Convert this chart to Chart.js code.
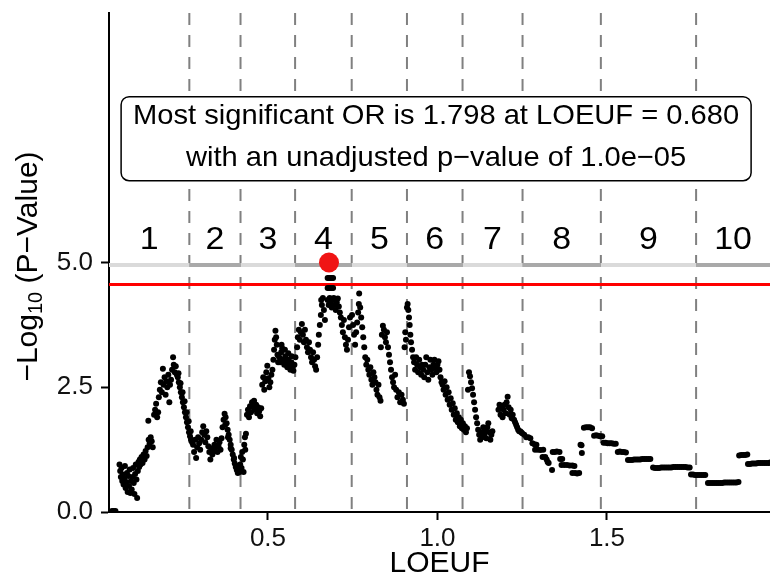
<!DOCTYPE html>
<html>
<head>
<meta charset="utf-8">
<script src="https://cdn.jsdelivr.net/npm/chart.js@4.4.1/dist/chart.umd.min.js"></script>
<style>
html,body{margin:0;padding:0;background:#fff;}
#wrap{width:770px;height:583px;position:relative;}
</style>
</head>
<body>
<div id="wrap"><canvas id="c" width="770" height="583"></canvas></div>
<script>
// ---------- data ----------
const loeufRange = [0.031, 1.981];
const yRange = [0, 10];
const xTickValues = [0.5, 1.0, 1.5];
const yTickValues = [0, 2.5, 5.0];
const decileBreaks = [0.031, 0.268, 0.419, 0.580, 0.747, 0.910, 1.074, 1.251, 1.482, 1.763, 1.981];
const decileNames = ['1','2','3','4','5','6','7','8','9','10'];
const decileLabelLevel = 5.45;
const bandLevel = 4.95;
const thresholdLevel = 4.56;
const topHit = [0.680, 5.0];
const noteCenter = [0.996, 7.48];
const noteLines = ['Most significant OR is 1.798 at LOEUF = 0.680', 'with an unadjusted p\u2212value of 1.0e\u221205'];
const xTitle = 'LOEUF';
const yTitleParts = ['\u2212Log', '10', ' (P\u2212Value)'];

// sliding-window points: [LOEUF, -log10 p]
const windowPoints = [
[0.040,0.02],[0.045,0.02],[0.050,0.02],
[0.062,0.95],[0.064,0.82],[0.066,0.70],[0.068,0.88],[0.070,0.62],[0.072,0.75],[0.074,0.55],[0.076,0.68],[0.078,0.92],[0.080,0.48],[0.082,0.60],[0.084,0.78],[0.086,0.40],[0.088,0.72],[0.090,0.52],[0.092,0.85],[0.094,0.38],[0.096,0.62],[0.098,0.45],[0.100,0.70],[0.102,0.88],[0.104,0.58],[0.106,0.36],[0.108,0.76],[0.110,0.95],[0.112,0.65],[0.114,0.28],[0.116,0.82],[0.118,1.00],[0.120,0.90],[0.122,1.05],
[0.124,0.95],[0.127,1.10],[0.130,0.98],[0.133,1.15],[0.136,1.05],[0.139,1.22],[0.142,1.12],[0.145,1.30],[0.148,1.45],[0.151,1.38],[0.154,1.50],[0.157,1.42],[0.147,1.83],[0.160,1.30],
[0.164,1.95],[0.167,2.05],[0.170,2.17],[0.173,1.90],[0.176,2.00],
[0.178,2.30],[0.181,2.45],[0.184,2.60],[0.187,2.40],[0.190,2.87],[0.192,2.55],[0.195,2.70],[0.198,2.35],[0.200,2.62],[0.203,2.50],[0.206,2.75],[0.209,2.20],[0.211,2.55],
[0.214,2.65],[0.217,2.85],[0.220,3.10],[0.222,2.95],[0.225,2.80],[0.228,2.92],[0.231,2.75],
[0.234,2.70],[0.237,2.60],[0.240,2.50],[0.243,2.40],[0.246,2.30],[0.249,2.20],[0.252,2.10],[0.255,2.00],[0.258,1.90],[0.261,1.80],[0.264,1.70],[0.267,1.60],[0.270,1.52],[0.273,1.45],[0.276,1.40],
[0.236,2.78],[0.242,2.58],[0.248,2.40],[0.254,2.22],[0.260,2.00],[0.266,1.82],[0.272,1.62],
[0.279,1.35],[0.282,1.20],[0.285,1.45],[0.288,1.08],[0.291,1.30],[0.294,1.50],[0.297,1.38],[0.300,1.25],[0.303,1.45],[0.306,1.60],[0.309,1.72],[0.312,1.55],[0.315,1.40],[0.318,1.62],[0.321,1.50],[0.324,1.32],[0.327,1.20],[0.330,1.05],[0.333,1.28],[0.336,1.15],[0.339,1.22],[0.342,1.35],[0.345,1.30],[0.348,1.45],[0.351,1.20],[0.354,1.32],[0.357,1.40],[0.360,1.25],[0.363,1.48],
[0.366,1.70],[0.369,1.85],[0.372,1.97],[0.375,1.90],[0.378,1.78],[0.381,1.65],[0.384,1.55],[0.387,1.45],[0.390,1.35],[0.393,1.25],[0.396,1.15],[0.399,1.05],[0.402,0.97],[0.405,0.90],[0.408,0.84],[0.411,0.78],[0.414,0.82],[0.417,0.80],
[0.374,1.75],[0.382,1.50],[0.390,1.28],[0.400,1.08],[0.410,0.92],
[0.418,0.95],[0.420,1.10],[0.422,0.88],[0.424,1.20],[0.426,1.05],[0.428,0.80],[0.430,1.35],[0.432,1.50],[0.433,1.25],[0.435,1.57],
[0.438,1.95],[0.441,2.05],[0.444,1.90],[0.447,2.12],[0.450,2.00],[0.453,2.20],[0.456,2.10],[0.459,2.23],[0.462,2.05],[0.465,2.15],[0.468,1.98],[0.471,2.10],[0.474,2.02],[0.477,1.92],[0.480,2.08],
[0.483,2.55],[0.486,2.70],[0.489,2.45],[0.492,2.62],[0.495,2.80],[0.498,2.93],[0.501,2.68],[0.504,2.50],[0.507,2.60],[0.510,2.75],[0.513,2.85],
[0.516,3.05],[0.518,3.25],[0.520,3.45],[0.522,3.63],[0.524,3.50],[0.526,3.35],[0.528,3.15],[0.530,3.00],
[0.533,3.10],[0.536,3.00],[0.539,3.20],[0.542,3.28],[0.545,3.05],[0.548,2.95],[0.551,3.12],[0.554,3.00],[0.557,2.90],[0.560,3.05],[0.563,2.95],[0.566,2.85],[0.569,3.00],[0.572,2.90],[0.575,2.83],[0.578,2.95],[0.581,3.10],
[0.540,3.35],[0.550,3.25],[0.560,3.18],[0.570,3.12],
[0.586,3.30],[0.588,3.50],[0.591,3.65],[0.594,3.45],[0.597,3.60],[0.600,3.77],[0.603,3.55],[0.606,3.40],[0.609,3.65],
[0.612,3.45],[0.615,3.30],[0.618,3.20],[0.621,3.40],[0.624,3.25],[0.627,3.10],[0.630,3.00],[0.633,3.20],[0.636,3.05],[0.639,2.92],[0.642,2.85],[0.645,3.10],[0.648,3.35],
[0.650,3.55],[0.653,3.75],[0.656,3.95],[0.659,4.15],[0.662,4.29],[0.665,4.05],[0.668,3.85],[0.657,4.25],
[0.676,4.69],[0.680,4.69],[0.684,4.69],[0.688,4.69],[0.692,4.69],[0.676,4.49],[0.680,4.49],[0.684,4.49],[0.688,4.49],[0.692,4.49],
[0.676,4.25],[0.679,4.15],[0.682,4.29],[0.685,4.20],[0.688,4.10],[0.691,4.25],[0.694,4.29],[0.697,4.15],[0.700,4.05],[0.703,4.20],[0.706,4.28],[0.709,4.12],[0.712,4.00],
[0.715,3.90],[0.718,3.75],[0.721,3.60],[0.724,3.85],[0.727,3.50],[0.730,3.35],[0.733,3.25],[0.736,3.45],[0.739,3.70],[0.742,3.90],
[0.748,3.95],[0.751,3.75],[0.754,3.55],[0.757,3.35],[0.760,3.60],[0.763,3.80],[0.766,4.00],[0.768,4.17],[0.769,4.38],[0.772,4.10],[0.775,3.90],
[0.778,3.70],[0.781,3.50],[0.784,3.30],[0.787,3.10],[0.790,2.95],[0.793,3.05],[0.796,2.85],[0.799,2.75],[0.802,2.90],[0.805,2.65],[0.808,2.55],[0.811,2.80],[0.814,2.70],
[0.817,2.60],[0.820,2.45],[0.823,2.35],[0.826,2.55],[0.829,2.30],[0.832,2.23],
[0.833,3.30],[0.836,3.55],[0.839,3.73],[0.842,3.65],[0.845,3.50],[0.848,3.40],[0.851,3.60],[0.854,3.30],[0.857,3.15],[0.860,3.00],[0.863,2.85],[0.866,2.70],[0.869,2.60],[0.872,2.50],[0.875,2.75],
[0.878,2.45],[0.882,2.30],[0.886,2.40],[0.890,2.20],[0.894,2.35],[0.898,2.25],[0.901,2.17],
[0.903,3.30],[0.905,3.60],[0.907,3.45],[0.910,4.10],[0.912,4.17],[0.914,4.05],[0.916,3.90],[0.918,3.75],[0.920,3.55],[0.922,3.40],[0.925,3.25],[0.928,3.10],
[0.931,3.00],[0.934,2.85],[0.937,3.10],[0.940,2.95],[0.943,2.80],[0.946,3.05],[0.949,2.90],[0.952,2.75],[0.955,2.95],[0.958,2.85],[0.961,2.70],[0.964,2.95],[0.967,3.10],[0.970,2.80],[0.973,2.65],[0.976,2.90],[0.979,3.05],[0.982,2.85],[0.985,2.75],[0.988,2.95],[0.991,3.05],[0.994,2.90],[0.997,2.80],[1.000,2.95],[1.003,3.02],[1.006,2.85],[1.009,2.70],[1.012,2.60],
[1.015,2.55],[1.018,2.45],[1.021,2.62],[1.024,2.35],[1.027,2.50],[1.030,2.25],[1.033,2.40],[1.036,2.15],[1.039,2.28],[1.042,2.05],[1.045,2.18],[1.048,1.95],[1.051,2.08],[1.054,1.85],[1.057,1.98],[1.060,1.80],[1.063,1.90],[1.066,1.72],[1.069,1.85],[1.072,1.68],[1.075,1.78],[1.078,1.65],[1.081,1.72],[1.084,1.60],[1.087,1.68],
[1.090,2.45],[1.093,2.80],[1.096,2.72],[1.099,2.60],[1.102,2.48],[1.105,2.35],[1.108,2.20],[1.111,2.05],[1.114,1.90],[1.117,1.78],[1.120,1.65],[1.123,1.55],[1.126,1.45],[1.129,1.60],[1.132,1.50],[1.135,1.70],[1.138,1.55],[1.141,1.62],[1.144,1.48],[1.147,1.70],[1.150,1.78],[1.153,1.60],[1.156,1.45],[1.159,1.55],[1.162,1.62],
[1.180,2.05],[1.183,2.15],[1.186,1.95],[1.189,2.10],[1.192,1.90],[1.195,2.05],[1.198,2.15],[1.201,1.98],[1.204,2.20],[1.207,2.31],[1.210,2.10],[1.213,1.95],[1.216,2.05],[1.219,1.88],[1.222,1.95],
[1.226,1.85],[1.229,1.80],[1.232,1.75],[1.235,1.70],[1.238,1.65],[1.241,1.62],[1.244,1.62],[1.247,1.60],[1.250,1.58],
[1.256,1.55],[1.262,1.50],[1.268,1.50],[1.274,1.48],[1.280,1.38],[1.286,1.36],[1.292,1.35],[1.288,1.25],[1.296,1.25],[1.304,1.24],[1.312,1.25],[1.310,1.10],[1.318,1.10],[1.322,1.05],[1.325,1.00],[1.328,0.98],[1.338,0.84],[1.340,1.20],[1.346,1.20],[1.352,1.21],[1.360,1.20],[1.362,1.06],[1.368,1.06],[1.366,0.94],[1.374,0.94],[1.382,0.94],[1.390,0.93],[1.398,0.93],[1.404,0.92],[1.398,0.78],[1.406,0.78],[1.412,0.77],[1.418,0.78],[1.422,1.35],[1.425,1.34],[1.426,1.18],[1.432,1.69],[1.438,1.70],[1.444,1.70],[1.450,1.70],[1.456,1.68],[1.462,1.53],[1.468,1.54],[1.474,1.53],[1.480,1.52],[1.486,1.52],
[1.490,1.39],[1.496,1.39],[1.502,1.38],[1.508,1.38],[1.514,1.38],[1.520,1.37],[1.526,1.37],
[1.532,1.20],[1.538,1.21],[1.544,1.20],[1.550,1.20],[1.556,1.19],
[1.562,1.04],[1.568,1.04],[1.574,1.04],[1.580,1.05],[1.586,1.05],[1.592,1.05],[1.598,1.05],[1.604,1.06],[1.610,1.06],[1.616,1.06],[1.622,1.06],[1.628,1.06],
[1.636,0.89],[1.642,0.88],[1.648,0.88],[1.654,0.88],[1.660,0.89],[1.666,0.89],[1.672,0.89],[1.678,0.89],[1.684,0.89],[1.690,0.89],[1.696,0.90],[1.702,0.90],[1.708,0.90],[1.714,0.90],[1.720,0.90],[1.726,0.90],[1.732,0.90],[1.738,0.89],[1.744,0.89],
[1.748,0.75],[1.754,0.75],[1.760,0.74],[1.766,0.74],[1.772,0.74],[1.778,0.74],[1.784,0.74],[1.790,0.74],
[1.798,0.58],[1.804,0.58],[1.810,0.58],[1.816,0.58],[1.822,0.58],[1.828,0.58],[1.834,0.58],[1.840,0.58],[1.846,0.59],[1.852,0.59],[1.858,0.59],[1.864,0.59],[1.870,0.59],[1.876,0.59],[1.882,0.59],[1.888,0.60],
[1.890,1.13],[1.896,1.14],[1.902,1.14],[1.908,1.14],[1.914,1.15],
[1.916,0.96],[1.922,0.96],[1.928,0.97],[1.934,0.97],[1.940,0.97],[1.946,0.98],[1.952,0.98],[1.958,0.98],[1.964,0.98],[1.970,0.98],[1.976,0.98],[1.982,0.99]
];

// ---------- chart ----------
const FONT = '"Liberation Sans", Arial, Helvetica, sans-serif';

const datasets = [];
datasets.push({ label:'top', data:[{x:topHit[0], y:topHit[1]}], pointRadius:10, pointHoverRadius:10,
  backgroundColor:'#f01414', borderWidth:0, order:0 });
datasets.push({ label:'windows', data: windowPoints.map(p => ({x:p[0], y:p[1]})), pointRadius:3, pointHoverRadius:3,
  backgroundColor:'#000', borderWidth:0, order:1 });
datasets.push({ label:'threshold', data:[{x:loeufRange[0], y:thresholdLevel},{x:loeufRange[1], y:thresholdLevel}],
  showLine:true, borderColor:'#ff0000', borderWidth:3, pointRadius:0, order:2 });
for (let i = 0; i < decileNames.length; i++) {
  datasets.push({ label:'band'+i, data:[{x:decileBreaks[i], y:bandLevel},{x:decileBreaks[i+1], y:bandLevel}],
    showLine:true, borderColor: i % 2 ? '#a9a9a9' : '#dadada', borderWidth:4, borderCapStyle:'butt', pointRadius:0, order:3 });
}
for (let i = 1; i < decileBreaks.length - 1; i++) {
  datasets.push({ label:'brk'+i, data:[{x:decileBreaks[i], y:yRange[1]},{x:decileBreaks[i], y:yRange[0]}],
    showLine:true, borderColor:'#808080', borderWidth:2, borderDash:[12,10], borderCapStyle:'butt', pointRadius:0, order:4 });
}

function stretchedText(ctx, text, x, y, size, stretch) {
  ctx.save();
  ctx.translate(x, y);
  ctx.scale(stretch, 1);
  ctx.font = size + 'px ' + FONT;
  ctx.textAlign = 'center';
  ctx.textBaseline = 'middle';
  ctx.fillText(text, 0, 0);
  ctx.restore();
}

const overlay = {
  id: 'overlay',
  afterDatasetsDraw(chart) {
    const {ctx, scales:{x, y}} = chart;
    ctx.save();
    ctx.fillStyle = '#000';
    const ly = y.getPixelForValue(decileLabelLevel);
    decileNames.forEach((n, i) => {
      const cx = x.getPixelForValue((decileBreaks[i] + decileBreaks[i+1]) / 2);
      stretchedText(ctx, n, cx, ly, 32, 1.06);
    });
    // annotation box
    const cx = x.getPixelForValue(noteCenter[0]);
    const cy = y.getPixelForValue(noteCenter[1]);
    const w = 630, h = 84, r = 8;
    ctx.beginPath();
    ctx.roundRect(cx - w/2, cy - h/2, w, h, r);
    ctx.fillStyle = '#fff';
    ctx.fill();
    ctx.lineWidth = 1.5;
    ctx.strokeStyle = '#000';
    ctx.stroke();
    ctx.fillStyle = '#000';
    stretchedText(ctx, noteLines[0], cx, cy - 22, 28, 1.04);
    stretchedText(ctx, noteLines[1], cx, cy + 20, 28, 1.04);
    ctx.restore();
  },
  afterDraw(chart) {
    // y-axis title with a real subscript
    const {ctx, chartArea} = chart;
    const big = 30, small = 20;
    ctx.save();
    ctx.fillStyle = '#000';
    ctx.textBaseline = 'middle';
    ctx.textAlign = 'left';
    ctx.font = big + 'px ' + FONT;
    const w0 = ctx.measureText(yTitleParts[0]).width;
    const w2 = ctx.measureText(yTitleParts[2]).width;
    ctx.font = small + 'px ' + FONT;
    const w1 = ctx.measureText(yTitleParts[1]).width;
    const total = w0 + w1 + w2;
    ctx.translate(29, (chartArea.top + chartArea.bottom) / 2 + 4);
    ctx.rotate(-Math.PI / 2);
    let px = -total / 2;
    ctx.font = big + 'px ' + FONT;
    ctx.fillText(yTitleParts[0], px, 0); px += w0;
    ctx.font = small + 'px ' + FONT;
    ctx.fillText(yTitleParts[1], px, 7); px += w1;
    ctx.font = big + 'px ' + FONT;
    ctx.fillText(yTitleParts[2], px, 0);
    ctx.restore();
  }
};

new Chart(document.getElementById('c'), {
  type: 'scatter',
  data: { datasets },
  options: {
    responsive: false,
    animation: false,
    devicePixelRatio: 1,
    layout: { autoPadding: false, padding: { top: 13, right: 0, bottom: 0, left: 0 } },
    plugins: { legend: { display: false }, tooltip: { enabled: false } },
    scales: {
      x: {
        type: 'linear', min: loeufRange[0], max: loeufRange[1],
        afterBuildTicks: s => { s.ticks = xTickValues.map(v => ({ value: v })); },
        afterFit: s => { s.height = 71; s.paddingLeft = 0; s.paddingRight = 0; },
        ticks: { autoSkip: false, maxRotation: 0, padding: 3, color: '#111',
          font: { family: FONT, size: 26 }, callback: v => Number(v).toFixed(1) },
        grid: { drawOnChartArea: false, drawTicks: true, tickLength: 8, tickWidth: 2, tickColor: '#000' },
        border: { display: true, color: '#000', width: 2 },
        title: { display: true, text: xTitle, color: '#000', font: { family: FONT, size: 30 }, padding: { top: 0, bottom: 1 } }
      },
      y: {
        type: 'linear', min: yRange[0], max: yRange[1],
        afterBuildTicks: s => { s.ticks = yTickValues.map(v => ({ value: v })); },
        afterFit: s => { s.width = 109; s.paddingTop = 0; s.paddingBottom = 0; },
        ticks: { autoSkip: false, padding: 8, color: '#111',
          font: { family: FONT, size: 26 }, callback: v => Number(v).toFixed(1) },
        grid: { drawOnChartArea: false, drawTicks: true, tickLength: 8, tickWidth: 2, tickColor: '#000' },
        border: { display: true, color: '#000', width: 2 },
        title: { display: false }
      }
    }
  },
  plugins: [overlay]
});
</script>
</body>
</html>
